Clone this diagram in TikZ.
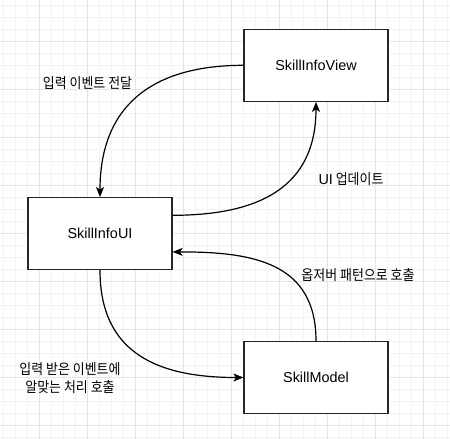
\documentclass[tikz,border=0pt]{standalone}
\usepackage{fontspec}
\setmainfont{Liberation Sans}
\newfontfamily\kr[FakeStretch=0.9]{Noto Sans CJK KR}
\usetikzlibrary{arrows.meta,calc}
\begin{document}
\begin{tikzpicture}[x=1pt,y=-1pt,
  gridminor/.style={draw=black!5,line width=0.6pt},
  gridmajor/.style={draw=black!10,line width=0.6pt},
  box/.style={draw=black!85,line width=1.2pt,fill=white,minimum width=144pt,minimum height=72pt,inner sep=0pt,font=\fontsize{14.4}{17}\selectfont},
  lbl/.style={inner sep=0pt,align=center,font=\kr\fontsize{14.4}{17.7}\selectfont},
  conn/.style={draw=black,line width=1.2pt,-{Stealth[length=10pt,width=8pt,inset=2.5pt]},looseness=1.2}]
\useasboundingbox (0,0) rectangle (450,439);
\fill[white] (0,0) rectangle (450,439);
\foreach \i in {0,...,37} {\draw[gridminor] ({3.3+12*\i},0) -- ({3.3+12*\i},439);}
\foreach \i in {0,...,36} {\draw[gridminor] (0,{5.3+12*\i}) -- (450,{5.3+12*\i});}
\foreach \i in {0,...,8} {\draw[gridmajor] ({39.3+48*\i},0) -- ({39.3+48*\i},439);}
\foreach \i in {0,...,8} {\draw[gridmajor] (0,{41.3+48*\i}) -- (450,{41.3+48*\i});}

\node[box] (view) at (316,65.3) {SkillInfoView};
\node[box] (ui) at (100,233.6) {SkillInfoUI};
\node[box] (model) at (316,377.5) {SkillModel};

\coordinate (uiup) at ($(ui.north east)!0.25!(ui.south east)$);
\coordinate (uidown) at ($(ui.north east)!0.75!(ui.south east)$);

\draw[conn] (view.west) to[out=180,in=90] (ui.north);
\draw[conn] (uiup) to[out=0,in=-90] (view.south);
\draw[conn] (ui.south) to[out=-90,in=180] (model.west);
\draw[conn] (model.north) to[out=90,in=0] (uidown);

\node[lbl] (l1) at (87.5,83) {입력 이벤트 전달};
\node[lbl] (l2) at (351,179) {{\rmfamily\fontsize{14.4}{17}\selectfont UI} 업데이트};
\node[lbl] (l3) at (358,275) {옵저버 패턴으로 호출};
\node[lbl] (l4) at (70,378) {입력 받은 이벤트에\\알맞는 처리 호출};
\end{tikzpicture}
\end{document}
